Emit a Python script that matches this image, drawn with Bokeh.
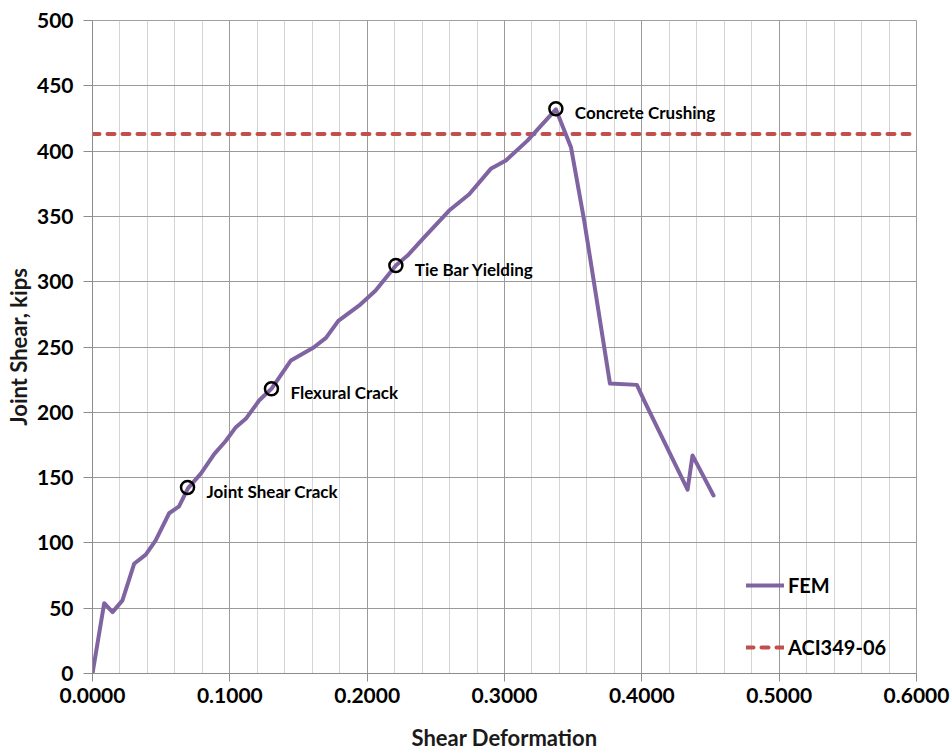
from bokeh.plotting import figure
from bokeh.models import (ColumnDataSource, FixedTicker, NumeralTickFormatter,
                          Legend, LegendItem, Range1d)
from bokeh.core.properties import value
from bokeh.embed import file_html
from bokeh.resources import INLINE

# ---- data ----
fem_x = [0, 0.0085, 0.0146, 0.0218, 0.0303, 0.0388, 0.046, 0.0558, 0.063, 0.0696,
         0.0789, 0.0886, 0.097, 0.1044, 0.1116, 0.1213, 0.1303, 0.1445, 0.161, 0.170,
         0.179, 0.195, 0.206, 0.2209, 0.2294, 0.2415, 0.2597, 0.2743, 0.290, 0.301,
         0.3167, 0.3374, 0.3484, 0.358, 0.3768, 0.3964, 0.4017, 0.4333, 0.4369, 0.4522]
fem_y = [0, 53.8, 47, 56, 84, 91, 102, 122.7, 128, 142,
         153, 168, 178, 188.6, 195, 209, 218, 239.7, 249.6, 257,
         270, 282.5, 293, 312.4, 320, 334, 354.5, 367, 386.4, 392.8,
         408, 432, 403, 347, 222, 221, 209, 140.7, 167, 136.3]

aci_x = [0.0, 0.6]
aci_y = [413, 413]

event_x = [0.0692, 0.1303, 0.2209, 0.3374]
event_y = [142.5, 218, 312.4, 432.4]
event_labels = ["Joint Shear Crack", "Flexural Crack", "Tie Bar Yielding", "Concrete Crushing"]

x_ticks = [0.0, 0.1, 0.2, 0.3, 0.4, 0.5, 0.6]
x_minor_ticks = [0.02, 0.04, 0.06, 0.08, 0.12, 0.14, 0.16, 0.18, 0.22, 0.24, 0.26, 0.28,
                 0.32, 0.34, 0.36, 0.38, 0.42, 0.44, 0.46, 0.48, 0.52, 0.54, 0.56, 0.58]
y_ticks = [0, 50, 100, 150, 200, 250, 300, 350, 400, 450, 500]

x_label = "Shear Deformation"
y_label = "Joint Shear, kips"

FONT = "Lato"

p = figure(width=952, height=753, output_backend="svg", toolbar_location=None,
           x_range=Range1d(0, 0.6), y_range=Range1d(0, 500),
           min_border_left=92, min_border_top=20, min_border_right=36, min_border_bottom=80)
p.background_fill_color = "white"
p.border_fill_color = "white"
p.outline_line_color = "#a0a0a0"
p.outline_line_width = 1

# axes
p.xaxis.ticker = FixedTicker(ticks=x_ticks, minor_ticks=x_minor_ticks)
p.yaxis.ticker = FixedTicker(ticks=y_ticks)
p.xaxis.formatter = NumeralTickFormatter(format="0.0000")
p.yaxis.formatter = NumeralTickFormatter(format="0")

for ax in (p.xaxis, p.yaxis):
    ax.axis_line_color = "#8c8c8c"
    ax.major_tick_line_color = "#8c8c8c"
    ax.minor_tick_line_color = None
    ax.major_tick_in = 0
    ax.major_label_text_font = FONT
    ax.major_label_text_font_style = "bold"
    ax.major_label_text_font_size = "21px"
    ax.major_label_text_color = "black"
    ax.axis_label_text_font = FONT
    ax.axis_label_text_font_style = "bold"
    ax.axis_label_text_font_size = "22px"
    ax.axis_label_text_color = "#1a1a1a"

p.xaxis.major_tick_out = 8
p.yaxis.major_tick_out = 9
p.xaxis.major_label_standoff = 6
p.yaxis.major_label_standoff = 10
p.xaxis.axis_label = x_label
p.yaxis.axis_label = y_label
p.xaxis.axis_label_standoff = 18
p.yaxis.axis_label_standoff = 2

# grids
p.xgrid.grid_line_color = "#9a9a9a"
p.xgrid.minor_grid_line_color = "#d4d4d4"
p.ygrid.grid_line_color = "#9a9a9a"

src_fem = ColumnDataSource(dict(x=fem_x, y=fem_y))
src_aci = ColumnDataSource(dict(x=aci_x, y=aci_y))
src_ev = ColumnDataSource(dict(x=event_x, y=event_y, t=event_labels))

r_aci = p.line("x", "y", source=src_aci, line_color="#C0504D", line_width=4,
               line_dash="7 8", line_cap="round")
r_fem = p.line("x", "y", source=src_fem, line_color="#8064A2", line_width=4,
               line_join="round", line_cap="round")

p.scatter("x", "y", source=src_ev, marker="circle", size=13, fill_color=None,
          line_color="black", line_width=2.5)
p.text("x", "y", text="t", source=src_ev, x_offset=19, y_offset=4,
       text_font=value(FONT), text_font_style="bold", text_font_size="17px",
       text_color="black", text_baseline="middle", text_align="left")

legend = Legend(items=[LegendItem(label="FEM", renderers=[r_fem]),
                       LegendItem(label="ACI349-06", renderers=[r_aci])],
                location=(654, 11), orientation="vertical")
legend.background_fill_alpha = 0
legend.border_line_color = None
legend.padding = 0
legend.margin = 0
legend.spacing = 32
legend.glyph_width = 38
legend.glyph_height = 30
legend.label_standoff = 4
legend.label_text_font = FONT
legend.label_text_font_style = "bold"
legend.label_text_font_size = "20px"
legend.label_text_color = "black"
p.add_layout(legend, "center")

open("out.html", "w").write(file_html(p, INLINE))
